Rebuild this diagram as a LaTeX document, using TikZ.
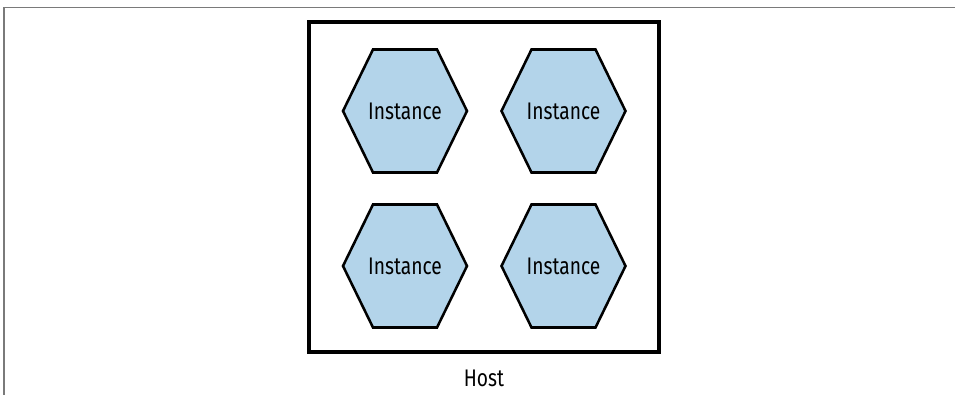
\documentclass[tikz,border=0pt]{standalone}
\usepackage{fontspec}
\newfontfamily\figfont[FakeStretch=0.8]{Fira Sans}
\usepackage{tikz}
\usetikzlibrary{positioning}
\definecolor{cellblue}{HTML}{B3D4EA}
\definecolor{framegray}{HTML}{7A7A7A}
\tikzset{
  hostbox/.style={rectangle, draw=black, line width=2.5pt, minimum width=262.5pt, minimum height=247.5pt, inner sep=0pt},
  hexcell/.style={draw=black, fill=cellblue, line width=1.9pt, line join=miter},
  lbl/.style={font=\figfont\fontsize{18}{21}\selectfont, text=black, inner sep=0pt},
  frame/.style={draw=framegray, line width=1.3pt}
}

\begin{document}
\begin{tikzpicture}[x=0.75pt, y=-0.75pt]
 \useasboundingbox (0,0) rectangle (955,395);
 \coordinate (ftr) at (955,7.5);
 \coordinate (fcorner) at (4,7.5);
 \coordinate (fbl) at (4,395);
 \draw[frame] (ftr) -- (fcorner) -- (fbl);
 \node[hostbox] (host) at (484,187) {};
 \node[lbl, below=12pt of host.south] (hostlbl) {Host};
 \foreach \n/\x/\y in {tl/405/111, tr/563.5/111, bl/405/266, br/563.5/266} {
   \draw[hexcell] (\x,\y) ++(-62,0) -- ++(30,-61.5) -- ++(64,0) -- ++(30,61.5)
     -- ++(-30,61.5) -- ++(-64,0) -- cycle;
   \node[lbl] (\n) at (\x,\y) {Instance};
 }
\end{tikzpicture}
\end{document}
